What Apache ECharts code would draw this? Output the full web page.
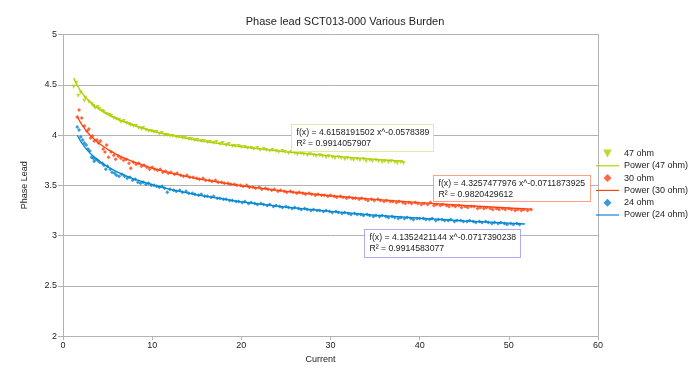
<!DOCTYPE html>
<html><head><meta charset="utf-8">
<script src="https://cdn.jsdelivr.net/npm/echarts@6/dist/echarts.min.js"></script>
<style>html,body{margin:0;padding:0;background:#fff}#c{width:690px;height:369px}</style>
</head><body><div id="c"></div>
<script>
const titleText = 'Phase lead SCT013-000 Various Burden';
const xTicks = [0, 10, 20, 30, 40, 50, 60];
const yTicks = [2, 2.5, 3, 3.5, 4, 4.5, 5];
const seriesNames = ['47 ohm', '30 ohm', '24 ohm'];
const trendNames = ['Power (47 ohm)', 'Power (30 ohm)', 'Power (24 ohm)'];
const equations = [
  ['f(x) = 4.6158191502 x^-0.0578389', 'R² = 0.9914057907'],
  ['f(x) = 4.3257477976 x^-0.0711873925', 'R² = 0.9820429612'],
  ['f(x) = 4.1352421144 x^-0.0717390238', 'R² = 0.9914583077']
];

// 47 ohm measurements
const ohm47X = [1.2,1.5,1.7,2.0,2.4,2.5,2.9,3.2,3.4,3.6,3.9,4.1,4.4,4.6,4.9,5.2,5.4,5.7,6.0,6.3,6.5,6.8,7.1,7.4,7.6,7.9,8.2,8.5,8.8,9.0,9.3,9.6,9.9,10.2,10.5,10.8,11.1,11.4,11.7,12.0,12.3,12.7,13.0,13.4,13.7,14.1,14.4,14.8,15.1,15.5,15.8,16.2,16.5,16.9,17.2,17.6,17.9,18.3,18.6,19.0,19.3,19.7,20.0,20.4,20.7,21.1,21.4,21.8,22.1,22.5,22.8,23.2,23.5,23.9,24.2,24.6,24.9,25.3,25.6,26.0,26.3,26.7,27.0,27.4,27.7,28.1,28.4,28.8,29.1,29.5,29.8,30.2,30.5,30.9,31.2,31.6,31.9,32.3,32.6,33.0,33.3,33.7,34.0,34.4,34.7,35.1,35.4,35.8,36.1,36.5,36.8,37.2,37.5,37.9,38.2];
const ohm47Y = [4.48,4.52,4.39,4.42,4.34,4.37,4.33,4.31,4.29,4.27,4.28,4.26,4.24,4.23,4.21,4.20,4.19,4.17,4.16,4.15,4.13,4.14,4.12,4.11,4.10,4.09,4.09,4.07,4.06,4.07,4.05,4.04,4.04,4.03,4.03,4.01,4.02,4.00,4.00,3.99,3.99,3.98,3.98,3.97,3.97,3.96,3.96,3.95,3.95,3.94,3.94,3.93,3.93,3.92,3.93,3.91,3.92,3.90,3.91,3.89,3.89,3.89,3.88,3.88,3.87,3.87,3.86,3.87,3.85,3.86,3.85,3.84,3.85,3.84,3.83,3.84,3.83,3.82,3.83,3.82,3.81,3.82,3.81,3.80,3.81,3.80,3.79,3.80,3.79,3.78,3.79,3.78,3.77,3.78,3.77,3.76,3.77,3.76,3.75,3.76,3.75,3.76,3.74,3.75,3.74,3.75,3.74,3.73,3.74,3.73,3.74,3.73,3.72,3.73,3.72];

// 30 ohm measurements
const ohm30X = [1.6,1.8,2.1,2.4,2.7,2.9,3.1,3.3,3.5,3.8,4.0,4.2,4.5,4.7,4.9,5.1,5.4,5.7,5.9,6.2,6.5,6.8,7.1,7.4,7.6,7.9,8.2,8.5,8.8,9.1,9.4,9.7,10.0,10.3,10.6,10.9,11.2,11.5,11.8,12.1,12.5,12.8,13.2,13.5,13.9,14.2,14.6,15.0,15.3,15.7,16.0,16.4,16.7,17.1,17.4,17.8,18.1,18.5,18.8,19.2,19.5,19.9,20.2,20.6,20.9,21.3,21.6,22.0,22.3,22.7,23.0,23.4,23.7,24.1,24.4,24.8,25.1,25.5,25.8,26.2,26.5,26.9,27.2,27.6,27.9,28.3,28.6,29.0,29.3,29.7,30.0,30.4,30.7,31.1,31.4,31.8,32.1,32.5,32.8,33.2,33.5,33.9,34.2,34.6,34.9,35.3,35.6,36.0,36.3,36.7,37.0,37.4,37.7,38.1,38.4,38.8,39.1,39.5,39.8,40.2,40.5,40.9,41.2,41.6,41.9,42.3,42.6,43.0,43.3,43.7,44.0,44.4,44.7,45.1,45.4,45.8,46.1,46.5,46.8,47.2,47.5,47.9,48.2,48.6,48.9,49.3,49.6,50.0,50.3,50.7,51.0,51.4,51.7,52.1,52.5];
const ohm30Y = [4.18,4.25,4.17,4.09,4.04,4.06,3.97,3.99,3.94,3.95,3.92,3.94,3.86,3.83,3.90,3.78,3.83,3.80,3.76,3.79,3.77,3.75,3.76,3.72,3.67,3.73,3.71,3.72,3.69,3.70,3.68,3.66,3.68,3.66,3.65,3.66,3.63,3.64,3.62,3.63,3.61,3.62,3.60,3.59,3.60,3.58,3.58,3.57,3.56,3.57,3.55,3.55,3.54,3.55,3.53,3.53,3.52,3.52,3.51,3.51,3.50,3.50,3.49,3.50,3.48,3.48,3.47,3.48,3.46,3.47,3.46,3.45,3.46,3.44,3.45,3.44,3.43,3.44,3.43,3.42,3.43,3.42,3.41,3.42,3.41,3.40,3.41,3.40,3.40,3.39,3.40,3.39,3.38,3.39,3.38,3.37,3.38,3.37,3.37,3.36,3.37,3.36,3.35,3.36,3.35,3.36,3.35,3.34,3.35,3.34,3.34,3.33,3.34,3.33,3.32,3.33,3.32,3.33,3.32,3.31,3.32,3.31,3.33,3.30,3.31,3.30,3.31,3.30,3.29,3.30,3.29,3.30,3.28,3.29,3.28,3.29,3.29,3.27,3.28,3.27,3.28,3.27,3.26,3.27,3.26,3.27,3.26,3.27,3.26,3.25,3.26,3.25,3.26,3.25,3.26];

// 24 ohm measurements
const ohm24X = [1.6,1.8,2.0,2.2,2.4,2.6,2.8,3.0,3.2,3.4,3.5,3.7,3.9,4.1,4.4,4.6,4.8,5.0,5.3,5.5,5.8,6.0,6.3,6.6,6.9,7.2,7.5,7.8,8.1,8.4,8.7,9.0,9.3,9.6,9.9,10.2,10.5,10.8,11.1,11.4,11.7,12.0,12.4,12.7,13.1,13.4,13.8,14.1,14.5,14.8,15.2,15.5,15.9,16.2,16.6,16.9,17.3,17.6,18.0,18.3,18.7,19.0,19.4,19.7,20.1,20.4,20.8,21.1,21.5,21.8,22.2,22.5,22.9,23.2,23.6,23.9,24.3,24.6,25.0,25.3,25.7,26.0,26.4,26.7,27.1,27.4,27.8,28.1,28.5,28.8,29.2,29.5,29.9,30.2,30.6,30.9,31.3,31.6,32.0,32.3,32.7,33.0,33.4,33.7,34.1,34.4,34.8,35.1,35.5,35.8,36.2,36.5,36.9,37.2,37.6,37.9,38.3,38.6,39.0,39.3,39.7,40.0,40.4,40.7,41.1,41.4,41.8,42.1,42.5,42.8,43.2,43.5,43.9,44.2,44.6,44.9,45.3,45.6,46.0,46.3,46.7,47.0,47.4,47.7,48.1,48.4,48.8,49.1,49.5,49.8,50.2,50.5,50.9,51.2,51.5,51.8];
const ohm24Y = [4.08,4.05,3.98,3.95,3.92,3.90,3.86,3.84,3.78,3.77,3.74,3.76,3.75,3.73,3.72,3.70,3.66,3.69,3.66,3.63,3.62,3.60,3.59,3.61,3.59,3.57,3.58,3.55,3.56,3.53,3.52,3.53,3.51,3.52,3.50,3.50,3.49,3.48,3.49,3.47,3.43,3.46,3.45,3.44,3.45,3.43,3.44,3.42,3.42,3.41,3.40,3.41,3.39,3.39,3.38,3.39,3.37,3.37,3.36,3.36,3.35,3.35,3.34,3.34,3.33,3.34,3.32,3.33,3.32,3.31,3.32,3.31,3.30,3.31,3.29,3.30,3.29,3.28,3.29,3.28,3.27,3.28,3.27,3.26,3.27,3.26,3.25,3.26,3.25,3.25,3.24,3.25,3.24,3.23,3.24,3.23,3.22,3.23,3.22,3.21,3.22,3.21,3.21,3.20,3.21,3.20,3.19,3.20,3.19,3.20,3.19,3.18,3.19,3.18,3.17,3.18,3.17,3.18,3.17,3.16,3.17,3.17,3.17,3.16,3.16,3.17,3.15,3.16,3.16,3.15,3.15,3.16,3.14,3.15,3.15,3.14,3.14,3.15,3.14,3.13,3.14,3.13,3.14,3.13,3.12,3.13,3.12,3.13,3.12,3.11,3.12,3.11,3.12,3.11];

// Power trend lines
const trend47X = [1.2,1.5,2,2.5,3,4,5,6,7,8,10,12,15,20,25,30,35,38.2];
const trend47Y = [4.567,4.509,4.434,4.378,4.332,4.260,4.206,4.161,4.125,4.093,4.040,3.998,3.947,3.882,3.832,3.792,3.758,3.739];
const trend30X = [1.6,2,2.5,3,4,5,6,7,8,10,12,15,20,25,30,35,40,45,50,52.5];
const trend30Y = [4.183,4.118,4.053,4.000,3.919,3.858,3.808,3.766,3.731,3.672,3.624,3.567,3.495,3.440,3.396,3.359,3.327,3.299,3.274,3.263];
const trend24X = [1.6,2,2.5,3,4,5,6,7,8,10,12,15,20,25,30,35,40,45,50,51.8];
const trend24Y = [3.998,3.935,3.872,3.822,3.744,3.684,3.636,3.597,3.562,3.506,3.460,3.405,3.336,3.283,3.240,3.204,3.174,3.147,3.123,3.115];

const zip = (xs, ys) => xs.map((x, i) => [x, ys[i]]);
const FONT = '"Liberation Sans", Arial, sans-serif';
const colors = ['#aecf00', '#ff420e', '#0084d1'];
const boxColors = ['#b8dc4a', '#ff420e', '#5a5aee'];
const triDown = 'path://M0,0L10,0L5,9Z';
const diamondIcon = 'path://M5,0L10,5L5,10L0,5Z';
const lineIcon = 'path://M0,0L40,0L40,2L0,2Z';

const chart = echarts.init(document.getElementById('c'), null, {renderer: 'canvas'});

const scatterSym = [triDown, 'diamond', 'diamond'];
const dataSets = [[ohm47X, ohm47Y], [ohm30X, ohm30Y], [ohm24X, ohm24Y]];
const trendSets = [[trend47X, trend47Y], [trend30X, trend30Y], [trend24X, trend24Y]];
const series = [];
for (let i = 0; i < 3; i++) {
  series.push({
    name: seriesNames[i], type: 'scatter', symbol: scatterSym[i], symbolSize: 4,
    itemStyle: {color: colors[i]}, data: zip(dataSets[i][0], dataSets[i][1]), z: 3
  });
  series.push({
    name: trendNames[i], type: 'line', symbol: 'none', showSymbol: false,
    lineStyle: {color: colors[i], width: 1.3}, itemStyle: {color: colors[i]},
    data: zip(trendSets[i][0], trendSets[i][1]), z: 4
  });
}

const boxes = [
  {x: 291, y: 124, w: 142, h: 27},
  {x: 433, y: 175, w: 157, h: 26},
  {x: 364, y: 229, w: 156, h: 28}
];
const graphics = [];
boxes.forEach((b, i) => {
  graphics.push({
    type: 'rect', x: 0.5, y: 0.5, z: 10,
    shape: {x: b.x, y: b.y, width: b.w, height: b.h},
    style: {fill: '#fff', stroke: boxColors[i], lineWidth: 1, lineDash: [1, 1]}
  });
  graphics.push({
    type: 'text', left: b.x + 5.5, top: b.y + 3.5, z: 11,
    style: {text: equations[i].join('\n'), font: '8.7px ' + FONT, fill: '#222', lineHeight: 10.5}
  });
});

chart.setOption({
  animation: false,
  backgroundColor: '#fff',
  title: {
    text: titleText, left: 'center', top: 11,
    textStyle: {fontFamily: FONT, fontSize: 11, fontWeight: 'normal', color: '#222'}
  },
  grid: {left: 63, right: 92, top: 34.5, bottom: 29.5},
  legend: {
    orient: 'vertical', left: 596, top: 149, itemWidth: 23, itemHeight: 8, itemGap: 3.3, padding: 0,
    textStyle: {fontFamily: FONT, fontSize: 9, color: '#222'},
    data: [
      {name: seriesNames[0], icon: triDown},
      {name: trendNames[0], icon: lineIcon},
      {name: seriesNames[1], icon: diamondIcon},
      {name: trendNames[1], icon: lineIcon},
      {name: seriesNames[2], icon: diamondIcon},
      {name: trendNames[2], icon: lineIcon}
    ]
  },
  xAxis: {
    type: 'value', min: xTicks[0], max: xTicks[xTicks.length - 1], interval: xTicks[1] - xTicks[0],
    name: 'Current', nameLocation: 'middle', nameGap: 17,
    nameTextStyle: {fontFamily: FONT, fontSize: 9, color: '#222', padding: [0, 20, 0, 0]},
    axisLine: {show: true, lineStyle: {color: '#b3b3b3'}},
    axisTick: {show: true, length: 4, lineStyle: {color: '#b3b3b3'}},
    axisLabel: {fontFamily: FONT, fontSize: 9, color: '#222', margin: 5},
    splitLine: {show: false}
  },
  yAxis: [{
    type: 'value', min: yTicks[0], max: yTicks[yTicks.length - 1], interval: yTicks[1] - yTicks[0],
    name: 'Phase Lead', nameLocation: 'middle', nameGap: 34, nameRotate: 90,
    nameTextStyle: {fontFamily: FONT, fontSize: 9, color: '#222'},
    axisLine: {show: true, lineStyle: {color: '#b3b3b3'}},
    axisTick: {show: true, length: 5, lineStyle: {color: '#b3b3b3'}},
    axisLabel: {fontFamily: FONT, fontSize: 9, color: '#222', margin: 6},
    splitLine: {show: true, lineStyle: {color: '#b3b3b3', width: 1}}
  }, {
    type: 'value', position: 'right', min: yTicks[0], max: yTicks[yTicks.length - 1],
    axisLine: {show: true, lineStyle: {color: '#b3b3b3'}},
    axisTick: {show: false}, axisLabel: {show: false}, splitLine: {show: false}
  }],
  series: series,
  graphic: graphics
});
</script>
</body></html>
